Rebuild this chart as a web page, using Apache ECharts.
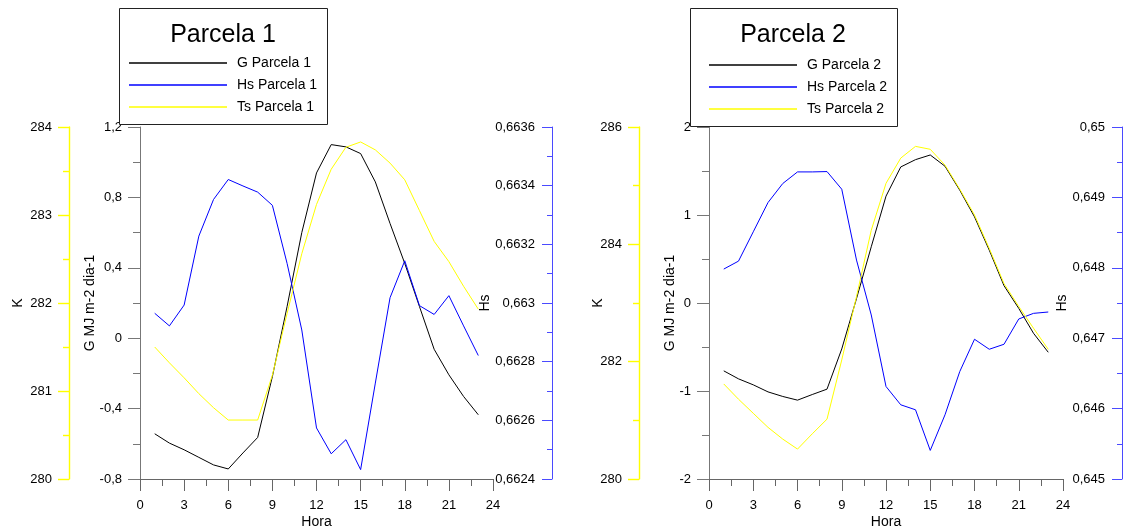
<!DOCTYPE html>
<html>
<head>
<meta charset="utf-8">
<script src="https://cdn.jsdelivr.net/npm/echarts@6/dist/echarts.min.js"></script>
<style>
html,body{margin:0;padding:0;background:#fff;}
#chart{width:1126px;height:527px;}
</style>
</head>
<body>
<div id="chart"></div>
<script>
// ---- Data ----
const hours = [1,2,3,4,5,6,7,8,9,10,11,12,13,14,15,16,17,18,19,20,21,22,23];
const xTicks = [0,3,6,9,12,15,18,21,24];

// Parcela 1
const gParcela1  = [-0.543,-0.596,-0.634,-0.677,-0.72,-0.743,-0.652,-0.564,-0.218,0.18,0.60,0.939,1.10,1.087,1.049,0.888,0.652,0.425,0.18,-0.063,-0.208,-0.331,-0.435];
const hsParcela1 = [0.662965,0.662922,0.662993,0.663228,0.663353,0.663421,0.663399,0.663378,0.663333,0.663135,0.662908,0.662574,0.662486,0.662534,0.662432,0.662727,0.663018,0.663144,0.662991,0.662961,0.663025,0.662922,0.662821];
const tsParcela1 = [281.50,281.32,281.15,280.97,280.81,280.67,280.67,280.67,281.18,281.88,282.56,283.12,283.52,283.77,283.83,283.74,283.59,283.40,283.05,282.70,282.47,282.19,281.93];

// Parcela 2
const gParcela2  = [-0.771,-0.862,-0.930,-1.010,-1.062,-1.104,-1.040,-0.979,-0.522,0.05,0.639,1.214,1.546,1.629,1.682,1.554,1.282,0.979,0.601,0.197,-0.061,-0.344,-0.560];
const hsParcela2 = [0.647982,0.648095,0.648511,0.648927,0.649197,0.649362,0.649362,0.649367,0.649116,0.648110,0.647330,0.646314,0.646054,0.645983,0.645406,0.645912,0.646526,0.646985,0.646843,0.646914,0.647273,0.647353,0.647372];
const tsParcela2 = [281.62,281.36,281.12,280.88,280.68,280.51,280.77,281.02,282.03,283.11,284.24,285.04,285.47,285.67,285.62,285.35,284.94,284.50,283.93,283.33,282.94,282.57,282.21];

const FONT = 'Liberation Sans, Arial, sans-serif';
const pair = arr => hours.map((h,i)=>[h,arr[i]]);
const comma = d => v => String(parseFloat(v.toFixed(d))).replace('.', ',');

function xAxisCfg(gi){
  return {
    gridIndex: gi, type:'value', min:0, max:24, interval:3,
    name:'Hora', nameLocation:'middle', nameGap:36, nameMoveOverlap:false,
    nameTextStyle:{fontFamily:FONT,fontSize:14,color:'#000'},
    axisLine:{onZero:false,lineStyle:{color:'#666',width:1}},
    axisTick:{show:true,length:12,lineStyle:{color:'#666'}},
    minorTick:{show:true,splitNumber:2,length:7,lineStyle:{color:'#666'}},
    axisLabel:{fontFamily:FONT,fontSize:13,color:'#000',margin:20,hideOverlap:false},
    splitLine:{show:false}
  };
}
function yAxisCfg(o){
  return Object.assign({
    type:'value', nameLocation:'middle', nameRotate:90, nameMoveOverlap:false,
    nameTextStyle:{fontFamily:FONT,fontSize:14,color:'#000'},
    axisLine:{show:true,onZero:false,lineStyle:{color:o.color,width:o.w||1}},
    axisTick:{show:true,length:o.tl,inside:!!o.inside,lineStyle:{color:o.color,width:o.w||1}},
    minorTick:{show:true,splitNumber:2,length:o.ml,lineStyle:{color:o.color,width:o.w||1}},
    axisLabel:{fontFamily:FONT,fontSize:13,color:'#000',margin:o.lm,inside:!!o.inside,formatter:o.fmt,hideOverlap:false},
    splitLine:{show:false}
  }, o.extra);
}

const option = {
  animation:false,
  backgroundColor:'#fff',
  graphic:[
    {type:'rect',z:1,shape:{x:119.5,y:8.5,width:208,height:116},style:{fill:'#fff',stroke:'#222',lineWidth:1}},
    {type:'rect',z:1,shape:{x:690.5,y:8.5,width:207,height:118},style:{fill:'#fff',stroke:'#222',lineWidth:1}}
  ],
  title:[
    {text:'Parcela 1',left:223,top:23,textAlign:'center',padding:0,z:10,textStyle:{fontFamily:FONT,fontSize:25,fontWeight:'normal',color:'#000'}},
    {text:'Parcela 2',left:793,top:23,textAlign:'center',padding:0,z:10,textStyle:{fontFamily:FONT,fontSize:25,fontWeight:'normal',color:'#000'}}
  ],
  legend:[
    {data:['G Parcela 1','Hs Parcela 1','Ts Parcela 1'],orient:'vertical',left:129,top:55,padding:0,itemWidth:98,itemHeight:1.5,itemGap:6,icon:'rect',z:10,
     textStyle:{fontFamily:FONT,fontSize:14,lineHeight:16,color:'#000',padding:[0,0,0,5]}},
    {data:['G Parcela 2','Hs Parcela 2','Ts Parcela 2'],orient:'vertical',left:709,top:57,padding:0,itemWidth:88,itemHeight:1.5,itemGap:6,icon:'rect',z:10,
     textStyle:{fontFamily:FONT,fontSize:14,lineHeight:16,color:'#000',padding:[0,0,0,5]}}
  ],
  grid:[
    {left:140,top:127,width:353,height:352,containLabel:false,outerBoundsMode:'none'},
    {left:709,top:127,width:354,height:352,containLabel:false,outerBoundsMode:'none'}
  ],
  xAxis:[xAxisCfg(0), xAxisCfg(1)],
  yAxis:[
    yAxisCfg({color:'#777',tl:12,ml:7,lm:18,fmt:comma(2),extra:{gridIndex:0,position:'left',min:-0.8,max:1.2,interval:0.4,name:'G MJ m-2 dia-1',nameGap:43}}),
    yAxisCfg({color:'#ffff00',w:1.4,tl:11,ml:6,lm:17,fmt:comma(0),extra:{gridIndex:0,position:'left',offset:71,min:280,max:284,interval:1,name:'K',nameGap:44}}),
    yAxisCfg({color:'#4a4aff',tl:10,ml:5,lm:17,inside:true,fmt:comma(4),extra:{gridIndex:0,position:'right',offset:59,min:0.6624,max:0.6636,interval:0.0002,name:'Hs',nameGap:-74}}),
    yAxisCfg({color:'#777',tl:12,ml:7,lm:18,fmt:comma(2),extra:{gridIndex:1,position:'left',min:-2,max:2,interval:1,name:'G MJ m-2 dia-1',nameGap:32}}),
    yAxisCfg({color:'#ffff00',w:1.4,tl:11,ml:6,lm:17,fmt:comma(0),extra:{gridIndex:1,position:'left',offset:70,min:280,max:286,interval:2,name:'K',nameGap:34}}),
    yAxisCfg({color:'#4a4aff',tl:10,ml:5,lm:17,inside:true,fmt:comma(4),extra:{gridIndex:1,position:'right',offset:59,min:0.645,max:0.65,interval:0.001,name:'Hs',nameGap:-67}})
  ],
  series:[
    {name:'G Parcela 1',type:'line',xAxisIndex:0,yAxisIndex:0,data:pair(gParcela1),symbol:'none',color:'#000',lineStyle:{width:1,color:'#000'}},
    {name:'Hs Parcela 1',type:'line',xAxisIndex:0,yAxisIndex:2,data:pair(hsParcela1),symbol:'none',color:'#0000ff',lineStyle:{width:1,color:'#0000ff'}},
    {name:'Ts Parcela 1',type:'line',xAxisIndex:0,yAxisIndex:1,data:pair(tsParcela1),symbol:'none',color:'#ffff00',lineStyle:{width:1,color:'#ffff00'}},
    {name:'G Parcela 2',type:'line',xAxisIndex:1,yAxisIndex:3,data:pair(gParcela2),symbol:'none',color:'#000',lineStyle:{width:1,color:'#000'}},
    {name:'Hs Parcela 2',type:'line',xAxisIndex:1,yAxisIndex:5,data:pair(hsParcela2),symbol:'none',color:'#0000ff',lineStyle:{width:1,color:'#0000ff'}},
    {name:'Ts Parcela 2',type:'line',xAxisIndex:1,yAxisIndex:4,data:pair(tsParcela2),symbol:'none',color:'#ffff00',lineStyle:{width:1,color:'#ffff00'}}
  ]
};
const chart = echarts.init(document.getElementById('chart'), null, {renderer:'canvas'});
chart.setOption(option);
</script>
</body>
</html>
